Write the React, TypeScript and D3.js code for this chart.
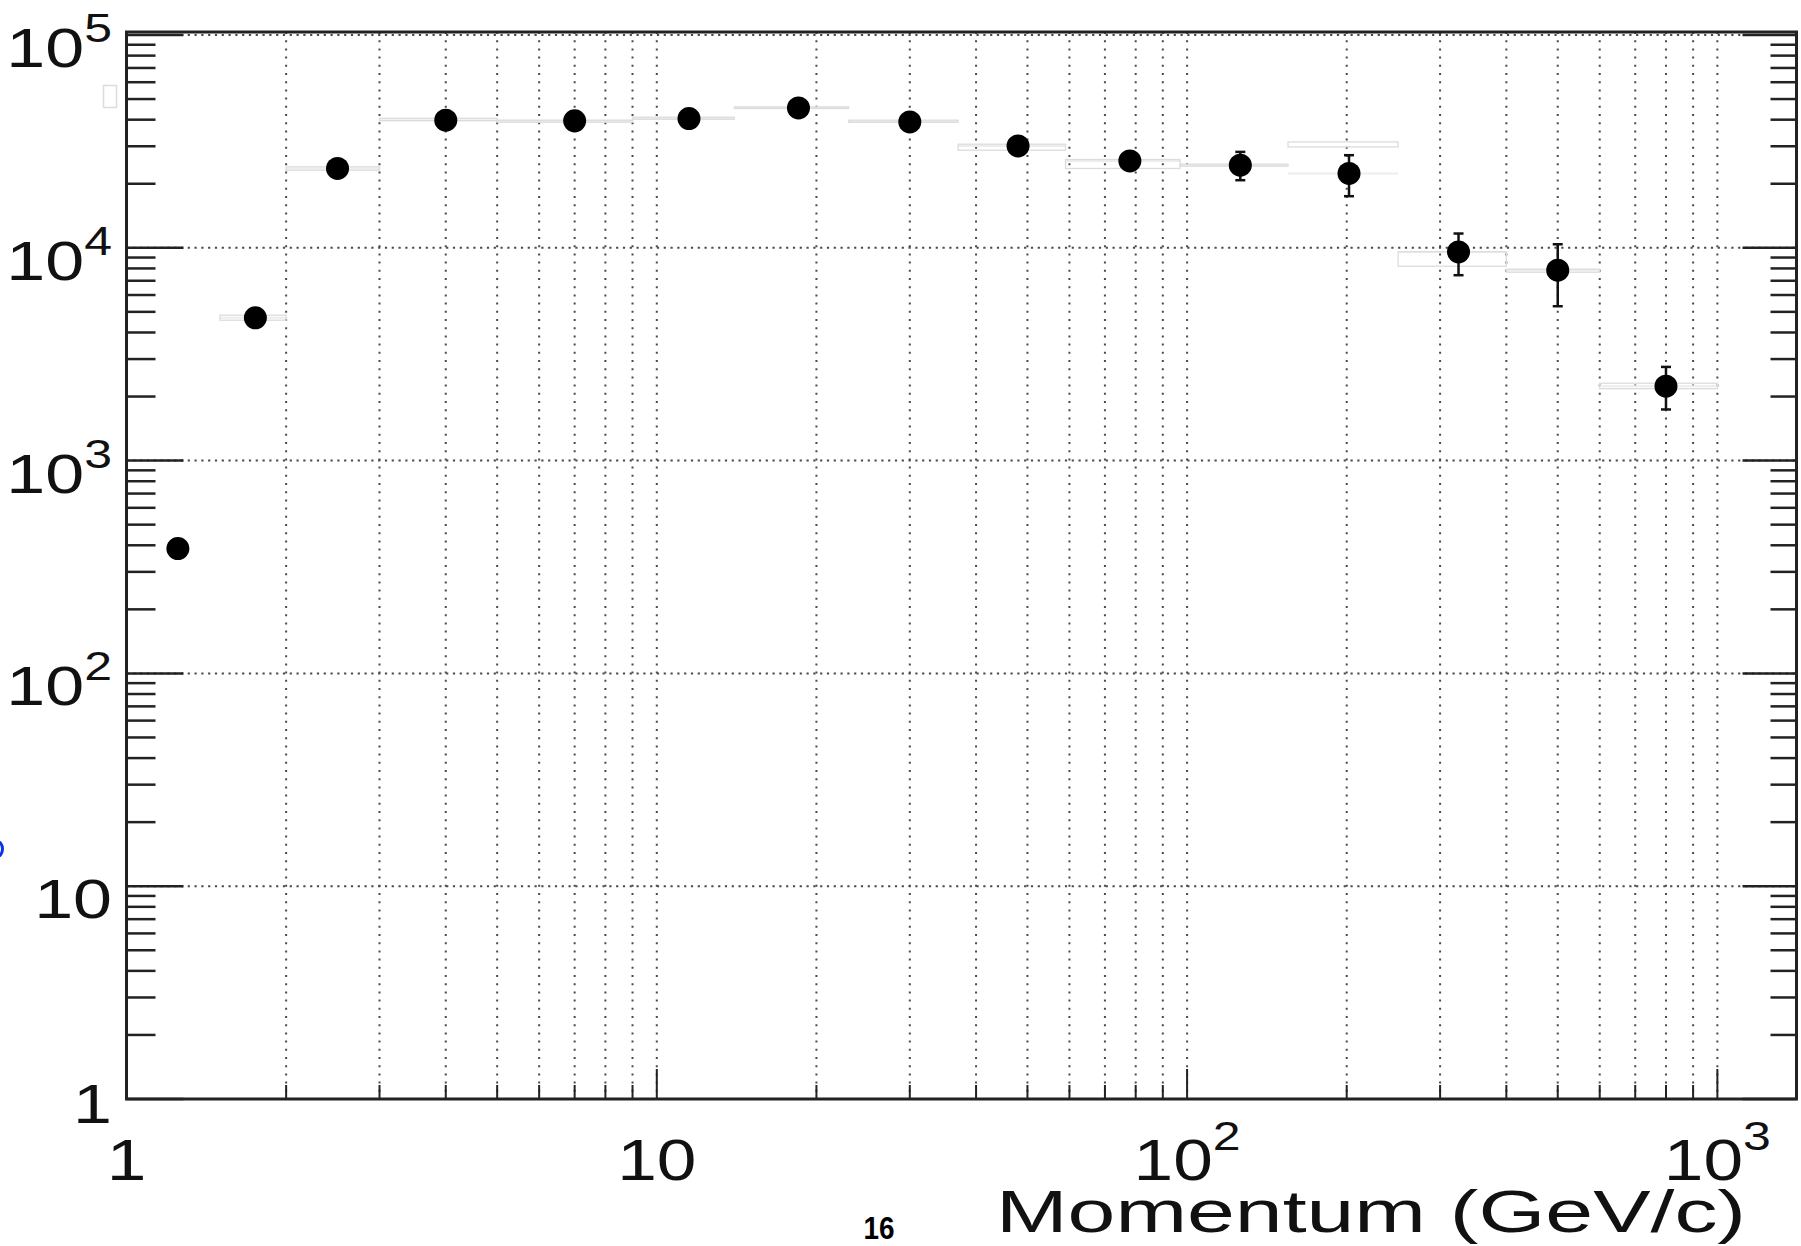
import React from 'react';
import * as d3 from 'd3';

// ---- data ----
const binLo = [1, 1.5, 2, 3, 5, 9, 14, 23, 37, 59, 97, 155, 250, 400, 600];
const binHi = [1.5, 2, 3, 5, 9, 14, 23, 37, 59, 97, 155, 250, 400, 600, 1000];
const momentum = [1.25, 1.75, 2.5, 4, 7, 11.5, 18.5, 30, 48, 78, 126, 202, 325, 500, 800];
const counts = [386, 4685, 23590, 39780, 39490, 40510, 45430, 39050, 30120, 25610, 24440, 22350, 9565, 7848, 2237];
const errHi = [386, 4685, 23590, 39780, 39490, 40510, 45430, 39050, 30120, 25610, 28230, 27240, 11670, 10390, 2756];
const errLo = [386, 4685, 23590, 39780, 39490, 40510, 45430, 39050, 30120, 25610, 20780, 17480, 7434, 5314, 1739];
const sysHi = [0, 4823, 24000, 40640, 39780, 41080, 45930, 39780, 30680, 26000, 24720, 31450, 9587, 7932, 2310];
const sysLo = [0, 4568, 23160, 39560, 38930, 40200, 45140, 38930, 28740, 23590, 24190, 29800, 8193, 7679, 2177];

const xDomain = [1, 1410];
const yDomain = [1, 103300];
const xMajor = [1, 10, 100, 1000];
const xTickBase = ['1', '10', '10', '10'];
const xTickExp = ['', '', '2', '3'];
const yMajor = [1, 10, 100, 1000, 10000, 100000];
const yTickBase = ['1', '10', '10', '10', '10', '10'];
const yTickExp = ['', '', '2', '3', '4', '5'];
const xTitle = 'Momentum (GeV/c)';
const pageNumber = '16';

// ---- layout ----
const W = 1801;
const H = 1246;
const L = 126.5;
const R = 1796.5;
const T = 32;
const B = 1099;
const FONT = "'Liberation Sans', Arial, Helvetica, sans-serif";
const SX = 1.25;

const x = d3.scaleLog().domain(xDomain).range([L, R]);
const y = d3.scaleLog().domain(yDomain).range([B, T]);

function minors(lo: number, hi: number): number[] {
  const out: number[] = [];
  for (let d = 1; d <= hi; d *= 10) {
    for (let k = 2; k <= 9; k++) {
      const v = k * d;
      if (v > lo && v < hi) out.push(v);
    }
  }
  return out;
}

const xMinor = minors(xDomain[0], xDomain[1]);
const yMinor = minors(yDomain[0], yDomain[1]);
const xGrid = [...xMinor, ...xMajor.filter((v) => v > 1)].sort((a, b) => a - b);
const yGrid = yMajor.filter((v) => v > 1);

function Label(props: { x: number; y: number; base: string; exp: string; anchor: string; size: number; expSize: number; dy: number }) {
  const { base, exp, anchor, size, expSize, dy } = props;
  return (
    <text
      transform={`translate(${props.x},${props.y}) scale(${SX},1)`}
      textAnchor={anchor}
      fontSize={size}
      fontFamily={FONT}
      fill="#111"
    >
      {base}
      {exp ? (
        <tspan fontSize={expSize} dy={dy}>
          {exp}
        </tspan>
      ) : null}
    </text>
  );
}

export default function App() {
  const idx = d3.range(momentum.length);
  return (
    <svg
      width={W}
      height={H}
      viewBox={`0 0 ${W} ${H}`}
      style={{ position: 'absolute', left: 0, top: 0, background: '#fff' }}
    >
      <rect x={0} y={0} width={W} height={H} fill="#fff" />

      {/* grid */}
      <g stroke="#4a4a4a" strokeWidth={2} fill="none">
        {xGrid.map((v) => (
          <line key={'gx' + v} x1={x(v)} x2={x(v)} y1={T} y2={B} strokeDasharray="2 6.2" />
        ))}
        {yGrid.map((v) => (
          <line key={'gy' + v} x1={L} x2={R} y1={y(v)} y2={y(v)} strokeDasharray="2.2 4.6" />
        ))}
      </g>

      {/* bin bars / systematic boxes */}
      <g fill="none">
        {idx
          .filter((i) => sysHi[i] > 0)
          .map((i) => (
            <g key={'s' + i}>
              <line x1={x(binLo[i])} x2={x(binHi[i])} y1={y(counts[i])} y2={y(counts[i])} stroke="#ededed" strokeWidth={2} />
              <rect
                x={x(binLo[i])}
                y={y(sysHi[i])}
                width={x(binHi[i]) - x(binLo[i])}
                height={Math.max(1.5, y(sysLo[i]) - y(sysHi[i]))}
                stroke="#dcdcdc"
                strokeWidth={1.3}
              />
            </g>
          ))}
      </g>

      {/* statistical error bars */}
      <g stroke="#111" strokeWidth={2.5}>
        {idx
          .filter((i) => errHi[i] > counts[i] * 1.03)
          .map((i) => {
            const cx = x(momentum[i]);
            return (
              <g key={'e' + i}>
                <line x1={cx} x2={cx} y1={y(errHi[i])} y2={y(errLo[i])} />
                <line x1={cx - 5} x2={cx + 5} y1={y(errHi[i])} y2={y(errHi[i])} />
                <line x1={cx - 5} x2={cx + 5} y1={y(errLo[i])} y2={y(errLo[i])} />
              </g>
            );
          })}
      </g>

      {/* markers */}
      <g fill="#000">
        {idx.map((i) => (
          <circle key={'p' + i} cx={x(momentum[i])} cy={y(counts[i])} r={11.5} />
        ))}
      </g>

      {/* ticks */}
      <g stroke="#222" strokeWidth={2.5}>
        {yMajor.map((v) => (
          <g key={'ty' + v}>
            <line x1={L} x2={L + 57} y1={y(v)} y2={y(v)} />
            <line x1={R} x2={R - 54} y1={y(v)} y2={y(v)} />
          </g>
        ))}
        {yMinor.map((v) => (
          <g key={'tym' + v}>
            <line x1={L} x2={L + 29} y1={y(v)} y2={y(v)} />
            <line x1={R} x2={R - 26} y1={y(v)} y2={y(v)} />
          </g>
        ))}
        {xMajor.map((v) => (
          <line key={'tx' + v} x1={x(v)} x2={x(v)} y1={B} y2={B - 30} strokeWidth={2} />
        ))}
        {xMinor.map((v) => (
          <line key={'txm' + v} x1={x(v)} x2={x(v)} y1={B} y2={B - 14} strokeWidth={2} />
        ))}
      </g>

      {/* frame */}
      <rect x={L} y={T} width={R - L} height={B - T} fill="none" stroke="#222" strokeWidth={3} />

      {/* y labels */}
      {yMajor.map((v, i) => (
        <Label
          key={'ly' + v}
          x={112}
          y={v === 1 ? y(v) + 24 : y(v) + 32}
          base={yTickBase[i]}
          exp={yTickExp[i]}
          anchor="end"
          size={56}
          expSize={40}
          dy={-25}
        />
      ))}

      {/* x labels */}
      {xMajor.map((v, i) => (
        <Label
          key={'lx' + v}
          x={x(v)}
          y={1180}
          base={xTickBase[i]}
          exp={xTickExp[i]}
          anchor="middle"
          size={57}
          expSize={40}
          dy={-30}
        />
      ))}

      {/* axis title */}
      <text x={996} y={1232} fontSize={60} fontFamily={FONT} fill="#111" textLength={750} lengthAdjust="spacingAndGlyphs">
        {xTitle}
      </text>

      {/* page number */}
      <text x={879} y={1239} fontSize={31} fontWeight="bold" fontFamily={FONT} fill="#000" textAnchor="middle" textLength={31} lengthAdjust="spacingAndGlyphs">
        {pageNumber}
      </text>

      {/* slide remnants */}
      <rect x={103.5} y={85.5} width={13} height={22} fill="#fff" stroke="#dcdcdc" strokeWidth={1.5} />
      <ellipse cx={-3} cy={849} rx={5.5} ry={7.5} fill="none" stroke="#1030f0" strokeWidth={3} />
    </svg>
  );
}
